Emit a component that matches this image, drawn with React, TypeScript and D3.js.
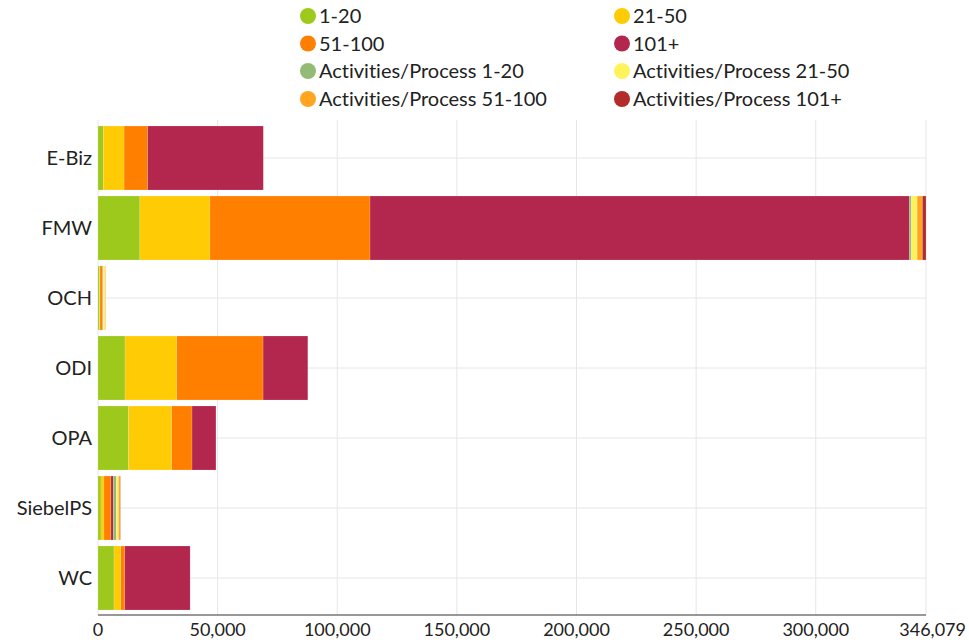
import React from "react";
import * as d3 from "d3";

const categories = ["E-Biz", "FMW", "OCH", "ODI", "OPA", "SiebelPS", "WC"];
const seriesNames = [
  "1-20",
  "21-50",
  "51-100",
  "101+",
  "Activities/Process 1-20",
  "Activities/Process 21-50",
  "Activities/Process 51-100",
  "Activities/Process 101+",
];
const seriesColors = [
  "#9dc91d",
  "#ffcb05",
  "#ff7f00",
  "#b3264d",
  "#93bb75",
  "#fff35c",
  "#ffa51f",
  "#b22c2c",
];
const s1_20 = [2200, 17500, 700, 11300, 12800, 1250, 6700];
const s21_50 = [8700, 29300, 150, 21600, 18000, 1250, 2800];
const s51_100 = [9900, 66900, 1000, 36100, 8500, 2900, 1700];
const s101 = [48300, 225479, 150, 18700, 10000, 1000, 27300];
const a1_20 = [0, 800, 150, 0, 0, 1300, 0];
const a21_50 = [0, 2400, 900, 0, 0, 900, 0];
const a51_100 = [0, 2200, 100, 0, 0, 700, 0];
const a101 = [0, 1500, 50, 0, 0, 100, 0];
const xTicks = [0, 50000, 100000, 150000, 200000, 250000, 300000, 346079];
const xMax = 346079;

const seriesValues = [s1_20, s21_50, s51_100, s101, a1_20, a21_50, a51_100, a101];

export default function App() {
  const W = 969;
  const H = 643;
  const left = 98;
  const right = 926;
  const top = 123;
  const bottom = 613;
  const font = "Lato, 'Source Sans Pro', sans-serif";

  const x = d3.scaleLinear().domain([0, xMax]).range([left, right]);
  const y = d3
    .scaleBand<string>()
    .domain(categories)
    .range([top, bottom])
    .paddingInner(0.086)
    .paddingOuter(0.043);

  const rows = categories.map((c, i) => {
    const o: any = { cat: c };
    seriesNames.forEach((s, k) => (o[s] = seriesValues[k][i]));
    return o;
  });
  const stacked = d3.stack<any>().keys(seriesNames)(rows);

  const legendCols = [308, 622];
  const legendRows = [16, 43.5, 71, 99];

  return (
    <svg
      width={W}
      height={H}
      style={{ position: "absolute", left: 0, top: 0, background: "#fff", fontVariantLigatures: "none" }}
      fontFamily={font}
    >
      {/* grid */}
      {xTicks.slice(1).map((t) => (
        <line key={"gx" + t} x1={x(t)} x2={x(t)} y1={120} y2={615} stroke="#e6e6e6" strokeWidth={1} />
      ))}
      <line x1={left} x2={left} y1={120} y2={615} stroke="#e6e6e6" />
      {categories.map((c) => (
        <line
          key={"gy" + c}
          x1={left}
          x2={right}
          y1={(y(c) as number) + y.bandwidth() / 2}
          y2={(y(c) as number) + y.bandwidth() / 2}
          stroke="#e6e6e6"
        />
      ))}
      {/* bars */}
      {stacked.map((layer, k) => (
        <g key={layer.key} fill={seriesColors[k]}>
          {layer.map((d, i) =>
            d[1] - d[0] > 0 ? (
              <rect
                key={i}
                x={x(d[0])}
                y={y(categories[i])}
                width={Math.max(0, x(d[1]) - x(d[0]))}
                height={y.bandwidth()}
                stroke="#ffffff"
                strokeOpacity={0.25}
                strokeWidth={0.6}
              />
            ) : null
          )}
        </g>
      ))}
      {/* x axis */}
      <line x1={left} x2={right} y1={615} y2={615} stroke="#333" strokeWidth={1.2} />
      {xTicks.map((t, i) => (
        <text
          key={"xt" + t}
          x={i === xTicks.length - 1 ? 966 : x(t)}
          y={636}
          textAnchor={i === xTicks.length - 1 ? "end" : "middle"}
          fontSize={18}
          fill="#222"
        >
          {d3.format(",")(t)}
        </text>
      ))}
      {/* y labels */}
      {categories.map((c) => (
        <text
          key={"yl" + c}
          x={92}
          y={(y(c) as number) + y.bandwidth() / 2}
          dy="0.35em"
          textAnchor="end"
          fontSize={20}
          fill="#222"
        >
          {c}
        </text>
      ))}
      {/* legend */}
      {seriesNames.map((s, k) => {
        const cx = legendCols[k % 2];
        const cy = legendRows[Math.floor(k / 2)];
        return (
          <g key={"lg" + s}>
            <circle cx={cx} cy={cy} r={8} fill={seriesColors[k]} />
            <text x={cx + 11} y={cy} dy="0.35em" fontSize={20} fill="#222">
              {s}
            </text>
          </g>
        );
      })}
    </svg>
  );
}
